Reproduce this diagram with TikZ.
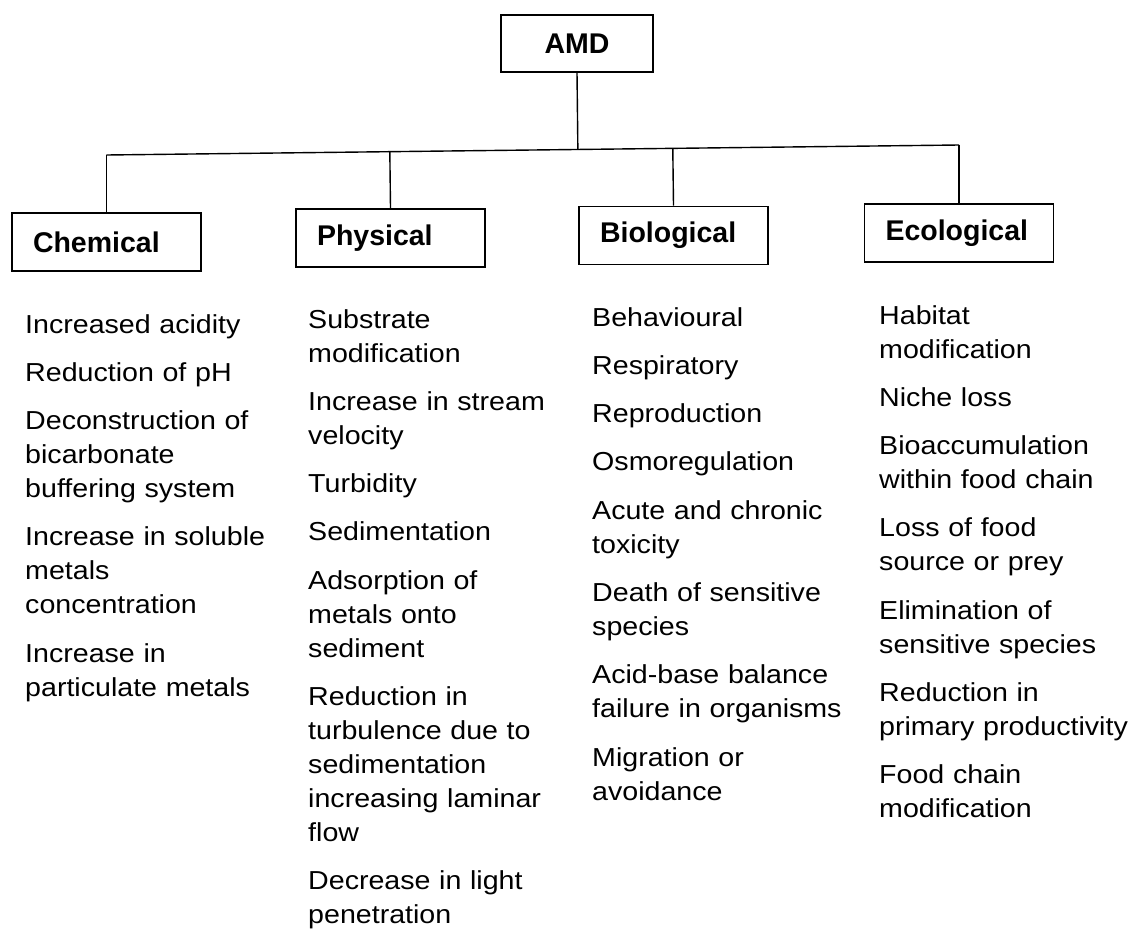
\documentclass[tikz,border=0pt]{standalone}
\usepackage{fontspec}
\setmainfont{Liberation Sans}
\newfontfamily\itemfont{Liberation Sans}[FakeStretch=1.1]
\usetikzlibrary{calc}

\begin{document}
\begin{tikzpicture}[x=1pt, y=-1pt,
  topbox/.style={draw, line width=1.8pt, minimum width=152pt, minimum height=57pt,
    inner sep=0pt, align=center, font=\fontsize{28.5}{34}\selectfont\bfseries},
  catbox/.style={draw, line width=1.8pt, minimum height=58pt, text width=147pt,
    inner xsep=21pt, inner ysep=0pt, align=left, font=\fontsize{28.5}{34}\selectfont\bfseries},
  link/.style={line width=1.4pt},
  itemlist/.style={anchor=base west, inner sep=0pt, text width=255pt, align=left,
    font=\itemfont\fontsize{26}{34}\selectfont}]
\useasboundingbox (0,0) rectangle (1139,942);

% root and the four categories
\node[topbox] (amd) at (577,43.5) {AMD};
\node[catbox] (chem) at (106.5,242)  {Chemical};
\node[catbox] (phys) at (390.5,238)  {Physical};
\node[catbox] (bio)  at (673.5,235.5) {Biological};
\node[catbox] (eco)  at (959,233)    {Ecological};

% horizontal bus
\coordinate (bc) at (106.5,155);
\coordinate (be) at (959,145);
\draw[link] (bc) -- (be);
\draw[link] (amd.south) -- ($(bc)!(amd.south)!(be)$);
\draw[link] (chem.north) -- (bc);
\draw[link] (phys.north) -- ($(bc)!(phys.north)!(be)$);
\draw[link] (bio.north)  -- ($(bc)!(bio.north)!(be)$);
\draw[link] (eco.north)  -- (be);

% effect lists
\node[itemlist] (chemlist) at (25,333) {Increased acidity\\[14.3pt]
  Reduction of pH\\[14.3pt]
  Deconstruction of\\ bicarbonate\\ buffering system\\[14.3pt]
  Increase in soluble\\ metals\\ concentration\\[14.3pt]
  Increase in\\ particulate metals};

\node[itemlist] (physlist) at (308,328) {Substrate\\ modification\\[14.3pt]
  Increase in stream\\ velocity\\[14.3pt]
  Turbidity\\[14.3pt]
  Sedimentation\\[14.3pt]
  Adsorption of\\ metals onto\\ sediment\\[14.3pt]
  Reduction in\\ turbulence due to\\ sedimentation\\ increasing laminar\\ flow\\[14.3pt]
  Decrease in light\\ penetration};

\node[itemlist] (biolist) at (592,326) {Behavioural\\[14.3pt]
  Respiratory\\[14.3pt]
  Reproduction\\[14.3pt]
  Osmoregulation\\[14.3pt]
  Acute and chronic\\ toxicity\\[14.3pt]
  Death of sensitive\\ species\\[14.3pt]
  Acid-base balance\\ failure in organisms\\[14.3pt]
  Migration or\\ avoidance};

\node[itemlist] (ecolist) at (879,324) {Habitat\\ modification\\[14.3pt]
  Niche loss\\[14.3pt]
  Bioaccumulation\\ within food chain\\[14.3pt]
  Loss of food\\ source or prey\\[14.3pt]
  Elimination of\\ sensitive species\\[14.3pt]
  Reduction in\\ primary productivity\\[14.3pt]
  Food chain\\ modification};
\end{tikzpicture}
\end{document}
